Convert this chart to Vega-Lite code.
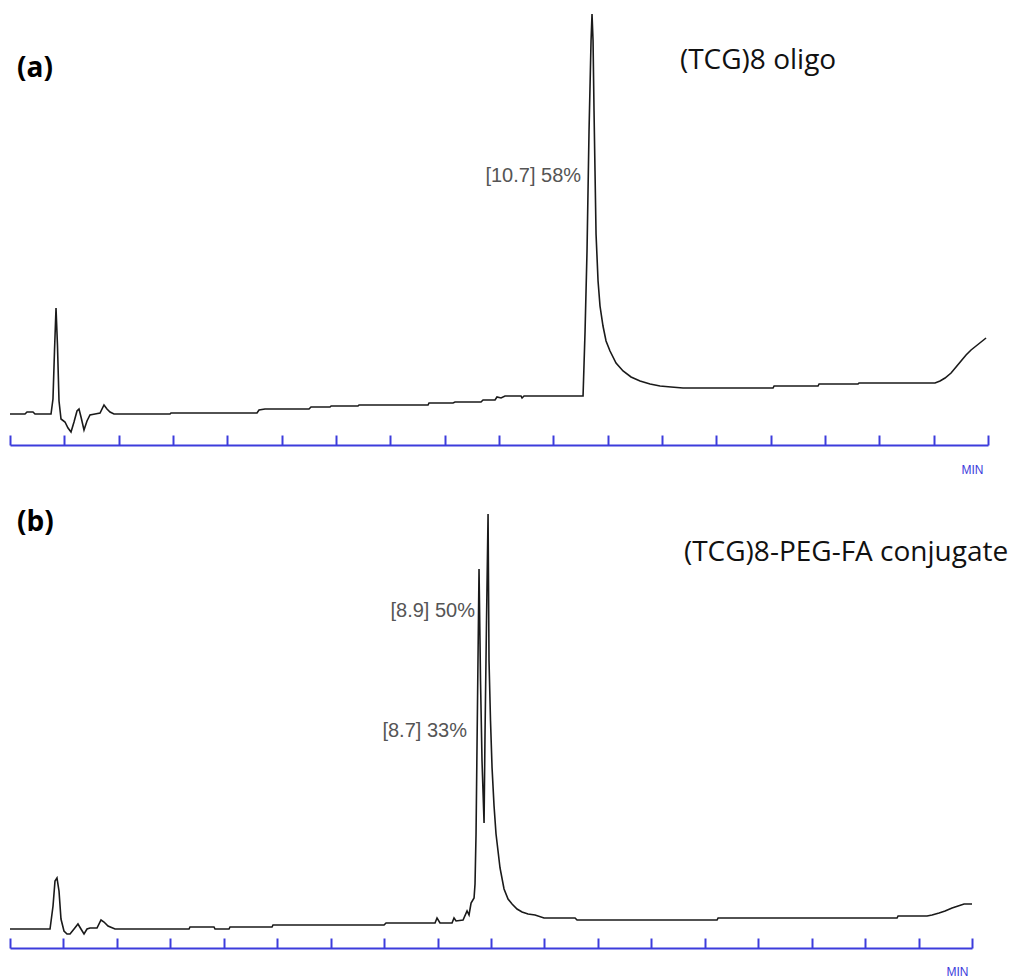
{
  "$schema": "https://vega.github.io/schema/vega-lite/v6.json",
  "background": "white",
  "padding": {"left": 6, "top": 10, "right": 0, "bottom": 0},
  "autosize": {"type": "pad"},
  "bounds": "flush",
  "spacing": 61,
  "config": {
    "view": {"stroke": null},
    "axis": {"grid": false}
  },
  "datasets": {
    "a": [
      {"t": 0.000, "v": 31}, {"t": 0.276, "v": 31}, {"t": 0.313, "v": 33}, {"t": 0.423, "v": 33},
      {"t": 0.460, "v": 31}, {"t": 0.755, "v": 31}, {"t": 0.791, "v": 46}, {"t": 0.819, "v": 94},
      {"t": 0.847, "v": 137}, {"t": 0.874, "v": 99}, {"t": 0.902, "v": 44}, {"t": 0.939, "v": 26},
      {"t": 1.012, "v": 23}, {"t": 1.068, "v": 17}, {"t": 1.123, "v": 13}, {"t": 1.178, "v": 23},
      {"t": 1.233, "v": 34}, {"t": 1.270, "v": 36}, {"t": 1.307, "v": 28}, {"t": 1.362, "v": 15},
      {"t": 1.417, "v": 24}, {"t": 1.472, "v": 30}, {"t": 1.565, "v": 31}, {"t": 1.657, "v": 32},
      {"t": 1.730, "v": 40}, {"t": 1.785, "v": 36}, {"t": 1.841, "v": 33}, {"t": 1.914, "v": 31},
      {"t": 2.945, "v": 31}, {"t": 2.963, "v": 32}, {"t": 4.546, "v": 32}, {"t": 4.583, "v": 35},
      {"t": 4.694, "v": 36}, {"t": 5.503, "v": 36}, {"t": 5.540, "v": 38}, {"t": 5.890, "v": 38},
      {"t": 5.910, "v": 39}, {"t": 6.405, "v": 39}, {"t": 6.424, "v": 40}, {"t": 7.694, "v": 40},
      {"t": 7.712, "v": 42}, {"t": 8.154, "v": 42}, {"t": 8.191, "v": 43}, {"t": 8.669, "v": 43},
      {"t": 8.706, "v": 45}, {"t": 8.927, "v": 45}, {"t": 8.963, "v": 48}, {"t": 9.037, "v": 47},
      {"t": 9.111, "v": 49}, {"t": 9.405, "v": 49}, {"t": 9.424, "v": 47}, {"t": 9.461, "v": 49},
      {"t": 10.547, "v": 49}, {"t": 10.584, "v": 114}, {"t": 10.620, "v": 194}, {"t": 10.657, "v": 314},
      {"t": 10.694, "v": 404}, {"t": 10.712, "v": 431}, {"t": 10.731, "v": 404}, {"t": 10.749, "v": 334},
      {"t": 10.767, "v": 274}, {"t": 10.786, "v": 211}, {"t": 10.823, "v": 164}, {"t": 10.859, "v": 139},
      {"t": 10.914, "v": 119}, {"t": 10.970, "v": 104}, {"t": 11.043, "v": 94}, {"t": 11.154, "v": 82},
      {"t": 11.283, "v": 74}, {"t": 11.430, "v": 68}, {"t": 11.596, "v": 64}, {"t": 11.780, "v": 61},
      {"t": 11.964, "v": 59}, {"t": 12.166, "v": 58}, {"t": 12.387, "v": 57}, {"t": 14.044, "v": 57},
      {"t": 14.063, "v": 59}, {"t": 14.872, "v": 59}, {"t": 14.891, "v": 61}, {"t": 15.608, "v": 61},
      {"t": 15.626, "v": 62}, {"t": 17.025, "v": 62}, {"t": 17.117, "v": 64}, {"t": 17.209, "v": 67},
      {"t": 17.320, "v": 72}, {"t": 17.412, "v": 78}, {"t": 17.504, "v": 84}, {"t": 17.596, "v": 90},
      {"t": 17.688, "v": 95}, {"t": 17.780, "v": 99}, {"t": 17.872, "v": 103}, {"t": 17.964, "v": 107}
    ],
    "b": [
      {"t": 0.000, "v": 19}, {"t": 0.749, "v": 19}, {"t": 0.805, "v": 42}, {"t": 0.842, "v": 67},
      {"t": 0.879, "v": 70}, {"t": 0.917, "v": 57}, {"t": 0.954, "v": 29}, {"t": 1.010, "v": 17},
      {"t": 1.067, "v": 14}, {"t": 1.123, "v": 14}, {"t": 1.198, "v": 19}, {"t": 1.272, "v": 24},
      {"t": 1.328, "v": 19}, {"t": 1.385, "v": 14}, {"t": 1.441, "v": 19}, {"t": 1.497, "v": 20},
      {"t": 1.628, "v": 20}, {"t": 1.703, "v": 28}, {"t": 1.759, "v": 26}, {"t": 1.834, "v": 22},
      {"t": 1.965, "v": 19}, {"t": 3.350, "v": 19}, {"t": 3.368, "v": 21}, {"t": 3.817, "v": 21},
      {"t": 3.836, "v": 19}, {"t": 4.098, "v": 19}, {"t": 4.117, "v": 21}, {"t": 4.903, "v": 21},
      {"t": 4.921, "v": 23}, {"t": 6.999, "v": 23}, {"t": 7.036, "v": 25}, {"t": 7.953, "v": 25},
      {"t": 7.990, "v": 30}, {"t": 8.046, "v": 25}, {"t": 8.271, "v": 25}, {"t": 8.308, "v": 30},
      {"t": 8.346, "v": 27}, {"t": 8.477, "v": 28}, {"t": 8.552, "v": 37}, {"t": 8.589, "v": 33},
      {"t": 8.627, "v": 45}, {"t": 8.683, "v": 50}, {"t": 8.701, "v": 64}, {"t": 8.720, "v": 114},
      {"t": 8.748, "v": 247}, {"t": 8.776, "v": 379}, {"t": 8.804, "v": 267}, {"t": 8.832, "v": 187},
      {"t": 8.870, "v": 125}, {"t": 8.888, "v": 214}, {"t": 8.916, "v": 327}, {"t": 8.945, "v": 434},
      {"t": 8.963, "v": 287}, {"t": 8.991, "v": 227}, {"t": 9.020, "v": 180}, {"t": 9.057, "v": 142},
      {"t": 9.094, "v": 114}, {"t": 9.169, "v": 80}, {"t": 9.244, "v": 59}, {"t": 9.319, "v": 49},
      {"t": 9.394, "v": 44}, {"t": 9.487, "v": 39}, {"t": 9.581, "v": 36}, {"t": 9.693, "v": 34},
      {"t": 9.824, "v": 33}, {"t": 9.992, "v": 30}, {"t": 10.573, "v": 30}, {"t": 10.610, "v": 28},
      {"t": 13.230, "v": 28}, {"t": 13.249, "v": 30}, {"t": 16.598, "v": 30}, {"t": 16.617, "v": 32},
      {"t": 17.159, "v": 32}, {"t": 17.253, "v": 33}, {"t": 17.384, "v": 35}, {"t": 17.496, "v": 37},
      {"t": 17.627, "v": 40}, {"t": 17.740, "v": 42}, {"t": 17.852, "v": 44}, {"t": 18.000, "v": 44}
    ]
  },
  "vconcat": [
    {
      "width": 978,
      "height": 434,
      "layer": [
        {
          "data": {"name": "a"},
          "mark": {"type": "line", "stroke": "#1a1a1a", "strokeWidth": 1.6},
          "encoding": {
            "x": {"field": "t", "type": "quantitative", "scale": {"domain": [0, 18], "nice": false},
              "axis": {"values": [0,1,2,3,4,5,6,7,8,9,10,11,12,13,14,15,16,17,18], "labels": false,
                "domainColor": "#3c3cdc", "domainWidth": 2, "tickColor": "#3c3cdc", "tickWidth": 2, "tickSize": -10,
                "title": "MIN", "titleColor": "#3c3cdc", "titleFont": "Liberation Sans", "titleFontSize": 12,
                "titleFontWeight": "normal", "titleX": 962, "titleY": 24, "titleAlign": "center", "titleBaseline": "middle"}},
            "y": {"field": "v", "type": "quantitative", "scale": {"domain": [0, 434], "nice": false, "zero": false}, "axis": null}
          }
        },
        {
          "data": {"values": [{"t": 10.51, "v": 269, "label": "[10.7] 58%"}]},
          "mark": {"type": "text", "align": "right", "baseline": "middle", "font": "Liberation Sans", "fontSize": 20, "color": "#555555"},
          "encoding": {
            "x": {"field": "t", "type": "quantitative"},
            "y": {"field": "v", "type": "quantitative"},
            "text": {"field": "label"}
          }
        },
        {
          "data": {"values": [{"t": 0.13, "v": 376, "label": "(a)"}]},
          "mark": {"type": "text", "align": "left", "baseline": "middle", "font": "Open Sans", "fontSize": 28, "fontWeight": "bold", "color": "#000000"},
          "encoding": {
            "x": {"field": "t", "type": "quantitative"},
            "y": {"field": "v", "type": "quantitative"},
            "text": {"field": "label"}
          }
        },
        {
          "data": {"values": [{"t": 12.33, "v": 384, "label": "(TCG)8 oligo"}]},
          "mark": {"type": "text", "align": "left", "baseline": "middle", "font": "Open Sans", "fontSize": 28, "color": "#111111"},
          "encoding": {
            "x": {"field": "t", "type": "quantitative"},
            "y": {"field": "v", "type": "quantitative"},
            "text": {"field": "label"}
          }
        }
      ]
    },
    {
      "width": 962,
      "height": 442,
      "layer": [
        {
          "data": {"name": "b"},
          "mark": {"type": "line", "stroke": "#1a1a1a", "strokeWidth": 1.6},
          "encoding": {
            "x": {"field": "t", "type": "quantitative", "scale": {"domain": [0, 18], "nice": false},
              "axis": {"values": [0,1,2,3,4,5,6,7,8,9,10,11,12,13,14,15,16,17,18], "labels": false,
                "domainColor": "#3c3cdc", "domainWidth": 2, "tickColor": "#3c3cdc", "tickWidth": 2, "tickSize": -10,
                "title": "MIN", "titleColor": "#3c3cdc", "titleFont": "Liberation Sans", "titleFontSize": 12,
                "titleFontWeight": "normal", "titleX": 947, "titleY": 23, "titleAlign": "center", "titleBaseline": "middle"}},
            "y": {"field": "v", "type": "quantitative", "scale": {"domain": [0, 442], "nice": false, "zero": false}, "axis": null}
          }
        },
        {
          "data": {"values": [{"t": 8.70, "v": 337, "label": "[8.9] 50%"}, {"t": 8.55, "v": 217, "label": "[8.7] 33%"}]},
          "mark": {"type": "text", "align": "right", "baseline": "middle", "font": "Liberation Sans", "fontSize": 20, "color": "#555555"},
          "encoding": {
            "x": {"field": "t", "type": "quantitative"},
            "y": {"field": "v", "type": "quantitative"},
            "text": {"field": "label"}
          }
        },
        {
          "data": {"values": [{"t": 0.13, "v": 425, "label": "(b)"}]},
          "mark": {"type": "text", "align": "left", "baseline": "middle", "font": "Open Sans", "fontSize": 28, "fontWeight": "bold", "color": "#000000"},
          "encoding": {
            "x": {"field": "t", "type": "quantitative"},
            "y": {"field": "v", "type": "quantitative"},
            "text": {"field": "label"}
          }
        },
        {
          "data": {"values": [{"t": 12.61, "v": 395, "label": "(TCG)8-PEG-FA conjugate"}]},
          "mark": {"type": "text", "align": "left", "baseline": "middle", "font": "Open Sans", "fontSize": 28, "color": "#111111"},
          "encoding": {
            "x": {"field": "t", "type": "quantitative"},
            "y": {"field": "v", "type": "quantitative"},
            "text": {"field": "label"}
          }
        }
      ]
    }
  ]
}
